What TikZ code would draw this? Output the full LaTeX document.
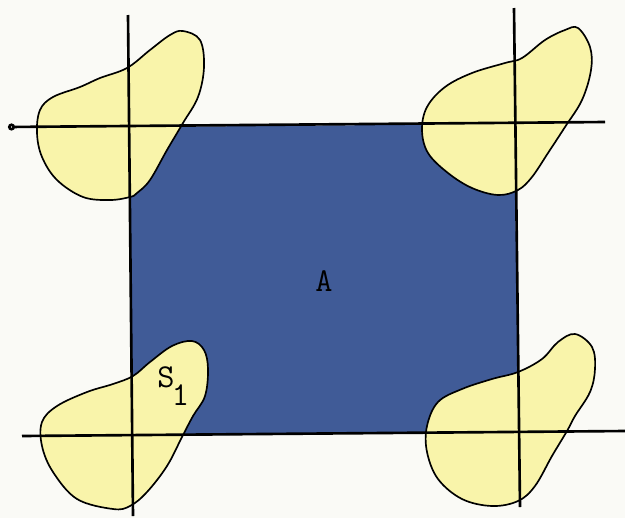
\documentclass[tikz,border=0pt]{standalone}
\usetikzlibrary{arrows.meta}
\definecolor{paper}{RGB}{250,250,246}
\definecolor{sea}{RGB}{64,91,151}
\definecolor{sand}{RGB}{249,244,170}
\tikzset{
  blob/.style={draw=black,fill=sand,line width=0.95pt},
  axis/.style={draw=black,line width=1.5pt},
  label/.style={font=\ttfamily\fontsize{19}{21}\selectfont,inner sep=0pt}
}
\begin{document}
\begin{tikzpicture}[x=0.02cm,y=-0.02cm]
        \useasboundingbox (0,0) rectangle (625,518);
        \fill [paper] (0,0) rectangle (625,518);
        \fill [sea] (130,127) -- (514,124) -- (519,432) -- (132,436) -- cycle;
        \draw [blob] plot [smooth cycle, tension=0.6] coordinates {(183,31) (200,40) (204,67) (198,97) (183,123) (167,150) (150,180) (137,193) (130,197) (110,200) (83,197) (57,180) (42,157) (37,133) (40,110) (53,97) (80,87) (100,78) (127,68) (150,50) (170,35)};
        \draw [blob] plot [smooth cycle, tension=0.6] coordinates {(578,28) (590,47) (591,70) (582,100) (565,127) (548,153) (532,177) (518,190) (498,195) (472,188) (448,173) (428,153) (422,130) (427,107) (445,87) (472,73) (505,63) (522,58) (545,40) (565,30)};
        \draw [blob] plot [smooth cycle, tension=0.6] coordinates {(192,341) (204,350) (208,369) (205,396) (193,416) (182,437) (167,466) (147,492) (130,506) (113,509) (77,499) (53,472) (42,446) (42,422) (57,406) (87,392) (113,384) (133,376) (150,362) (172,346)};
        \draw [blob] plot [smooth cycle, tension=0.6] coordinates {(575,334) (592,347) (595,369) (590,392) (575,416) (567,431) (552,456) (535,486) (518,501) (492,506) (462,499) (438,479) (427,452) (427,426) (438,402) (462,389) (492,379) (518,372) (542,359) (558,342)};
        \draw [axis, {Circle[open,length=4pt]}-] (8,127) -- (605,122);
        \draw [axis] (22,436) -- (625,431);
        \draw [axis] (128,15) -- (133,516);
        \draw [axis] (514,8) -- (520,507);
        \node [label] (A) at (324,281) {A};
        \node [label,anchor=south west] (S1) at (157,406) {S\raisebox{-0.55em}{\kern-0.08em 1}};
    \end{tikzpicture}
\end{document}
